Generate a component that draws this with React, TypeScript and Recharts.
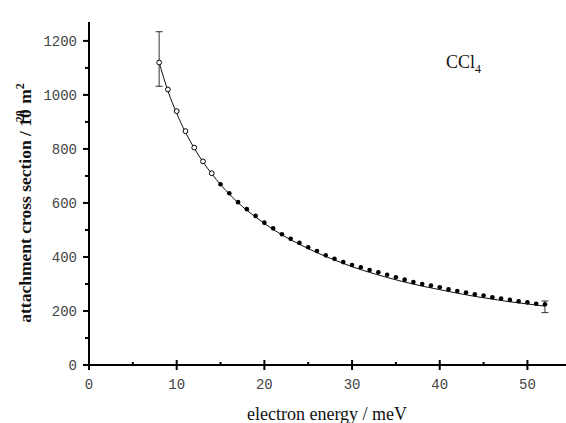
import { ComposedChart, Line, Scatter, XAxis, YAxis, ErrorBar } from "recharts";

// measured points, open circles (low energy) and filled circles
const openX = [8, 9, 10, 11, 12, 13, 14];
const openY = [1120, 1020, 940, 866, 805, 754, 710];
const filledX = [
  15, 16, 17, 18, 19, 20, 21, 22, 23, 24, 25, 26, 27, 28, 29, 30, 31, 32, 33,
  34, 35, 36, 37, 38, 39, 40, 41, 42, 43, 44, 45, 46, 47, 48, 49, 50, 51, 52,
];
const filledY = [
  669, 636, 603, 577, 552, 527, 506, 484, 467, 452, 436, 422, 406, 393, 381,
  370, 362, 352, 343, 334, 325, 316, 307, 300, 294, 288, 280, 274, 268, 262,
  257, 251, 246, 241, 236, 232, 227, 225,
];

// fitted curve
const fitX = [8, 9, 10, 11, 12, 13, 14, 15, 16, 17, 18, 19, 20, 22, 24, 26, 28, 30, 32, 34, 36, 38, 40, 42, 44, 46, 48, 50, 52];
const fitY = [1120, 1015, 932, 862, 803, 752, 708, 668, 633, 601, 573, 548, 524, 482, 447, 416, 389, 364, 343, 324, 307, 292, 279, 266, 254, 244, 234, 226, 218];

// error bars: [below, above]
const errX = [8, 52];
const errY = [1120, 218];
const errRange = [
  [88, 114],
  [24, 19],
];

const xTicks = [0, 5, 10, 15, 20, 25, 30, 35, 40, 45, 50];
const yTicks = [0, 100, 200, 300, 400, 500, 600, 700, 800, 900, 1000, 1100, 1200];

const SERIF = "'Liberation Serif', 'Times New Roman', serif";
const MONO = "'Liberation Mono', 'Courier New', monospace";

const openData = openX.map((x, i) => ({ x, y: openY[i] }));
const filledData = filledX.map((x, i) => ({ x, y: filledY[i] }));
const fitData = fitX.map((x, i) => ({ x, y: fitY[i] }));
const errData = errX.map((x, i) => ({ x, y: errY[i], err: errRange[i] }));

const XTick = ({ x, y, payload }: any) => {
  const major = payload.value % 10 === 0;
  return (
    <g>
      <line x1={x} x2={x} y1={major ? y - 5 : y - 3} y2={major ? y + 5 : y} stroke="#000" strokeWidth={2} />
      {major && (
        <text x={x} y={y + 24} textAnchor="middle" fontFamily={MONO} fontSize={14} fill="#444">
          {payload.value}
        </text>
      )}
    </g>
  );
};

const YTick = ({ x, y, payload }: any) => {
  const major = payload.value % 200 === 0;
  return (
    <g>
      <line x1={major ? x - 6 : x - 4} x2={x} y1={y} y2={y} stroke="#000" strokeWidth={2} />
      {major && (
        <text x={x - 12} y={y + 5} textAnchor="end" fontFamily={MONO} fontSize={14} fill="#444">
          {payload.value}
        </text>
      )}
    </g>
  );
};

const YLabel = () => (
  <text transform="translate(31,203) rotate(-90)" textAnchor="middle" fontFamily={SERIF} fontSize={17.5} fontWeight="bold" fill="#111">
    attachment cross section / 10
    <tspan dx={-13} dy={-7} fontSize={12}>20</tspan>
    <tspan dx={2} dy={7}> m</tspan>
    <tspan dy={-7} fontSize={12}>2</tspan>
  </text>
);

const XLabel = () => (
  <text x={327} y={420} textAnchor="middle" fontFamily={SERIF} fontSize={18} fill="#111">
    electron energy / meV
  </text>
);

export default function App() {
  return (
    <div style={{ position: "absolute", left: 0, top: 0, width: 566, height: 423, background: "#fff", overflow: "hidden" }}>
      <ComposedChart width={566} height={423} margin={{ top: 22, right: 0, left: 0, bottom: 0 }}>
        <XAxis
          dataKey="x"
          type="number"
          domain={[0, 54.4]}
          ticks={xTicks}
          allowDataOverflow
          height={58}
          tickSize={0}
          tickMargin={0}
          tickLine={false}
          axisLine={{ stroke: "#000", strokeWidth: 2 }}
          tick={<XTick />}
          label={{ content: () => <XLabel /> }}
        />
        <YAxis
          type="number"
          domain={[0, 1270]}
          ticks={yTicks}
          allowDataOverflow
          width={89}
          tickSize={0}
          tickMargin={0}
          tickLine={false}
          axisLine={{ stroke: "#000", strokeWidth: 2 }}
          tick={<YTick />}
          label={{ content: () => <YLabel /> }}
        />
        <Line
          data={fitData}
          dataKey="y"
          type="monotone"
          stroke="#111"
          strokeWidth={1}
          dot={false}
          isAnimationActive={false}
        />
        <Scatter
          data={errData}
          dataKey="y"
          isAnimationActive={false}
          shape={() => <g />}
        >
          <ErrorBar dataKey="err" direction="y" width={3.5} stroke="#333" strokeWidth={1} isAnimationActive={false} />
        </Scatter>
        <Scatter
          data={openData}
          dataKey="y"
          isAnimationActive={false}
          shape={(p: any) => <circle cx={p.cx} cy={p.cy} r={2.4} fill="#fff" stroke="#000" strokeWidth={1} />}
        />
        <Scatter
          data={filledData}
          dataKey="y"
          isAnimationActive={false}
          shape={(p: any) => <circle cx={p.cx} cy={p.cy} r={2.3} fill="#000" />}
        />
      </ComposedChart>
      <div style={{ position: "absolute", left: 446, top: 52, fontFamily: SERIF, fontSize: 18, lineHeight: "20px", color: "#111" }}>
        CCl<sub style={{ fontSize: 12 }}>4</sub>
      </div>
    </div>
  );
}
